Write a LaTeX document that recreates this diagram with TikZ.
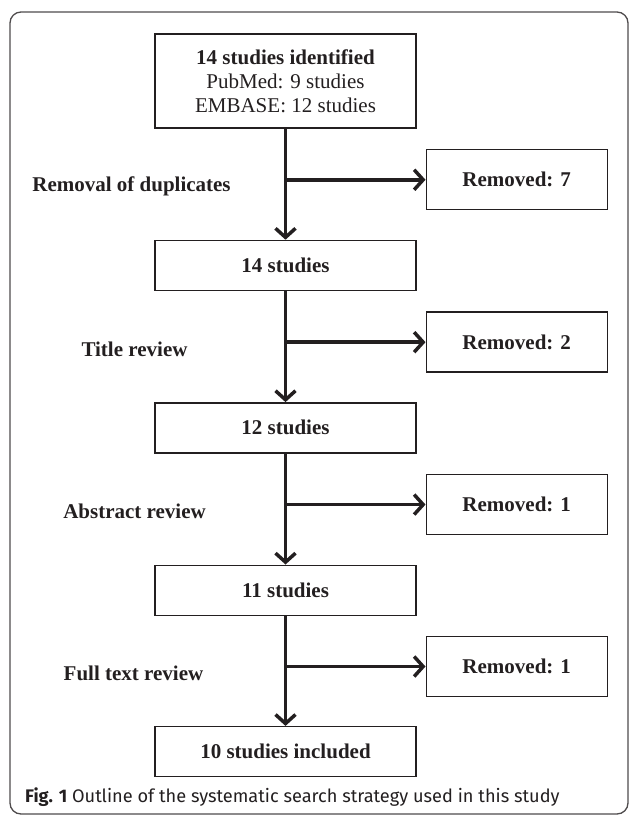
\documentclass[tikz,border=0pt]{standalone}
\usepackage{fontspec}
\setmainfont{Liberation Serif}
\newfontfamily\capfont{Fira Sans}
\usepackage{xcolor}
\definecolor{inkgray}{RGB}{35,31,32}
\usepackage{tikz}
\usetikzlibrary{arrows.meta,positioning,calc}
\tikzset{
  mainbox/.style={rectangle,draw=inkgray,line width=1.4pt,text=inkgray,align=center,
    minimum width=261pt,minimum height=50pt,inner sep=2pt,font=\fontsize{21}{24}\selectfont\bfseries},
  sidebox/.style={rectangle,draw=inkgray,line width=1.4pt,text=inkgray,align=center,
    minimum width=181pt,minimum height=60pt,inner sep=2pt,font=\fontsize{21}{24}\selectfont\bfseries},
  steplbl/.style={text=inkgray,font=\fontsize{21}{24}\selectfont\bfseries,inner sep=0pt},
  flow/.style={-{Straight Barb[length=9pt,width=20pt,line width=3.5pt]},line width=3.5pt,draw=inkgray},
  outframe/.style={draw=inkgray!80,line width=1.3pt,rounded corners=11pt},
}

\begin{document}
\begin{tikzpicture}[x=1pt,y=1pt]
  \useasboundingbox (0,0) rectangle (629,-815);
  \draw[outframe] (10,-12) rectangle (628,-814);
  \node (idf) [mainbox,minimum height=94pt] at (285.5,-81)
    {14 studies identified\\ \mdseries PubMed: 9 studies\\ \mdseries EMBASE: 12 studies};
  \node (s14)[mainbox,below=111pt of idf] {14 studies};
  \node (s12)[mainbox,below=111pt of s14] {12 studies};
  \node (s11)[mainbox,below=111pt of s12] {11 studies};
  \node (s10)[mainbox,below=110pt of s11] {10 studies included};
  % branch points on the main line
  \coordinate (b1) at ($(idf.south)!0.46!(s14.north)$);
  \coordinate (b2) at ($(s14.south)!0.46!(s12.north)$);
  \coordinate (b3) at ($(s12.south)!0.46!(s11.north)$);
  \coordinate (b4) at ($(s11.south)!0.46!(s10.north)$);
  \node (rm1)[sidebox,right=140pt of b1] {Removed: 7};
  \node (rm2)[sidebox,right=140pt of b2] {Removed: 2};
  \node (rm3)[sidebox,right=140pt of b3] {Removed: 1};
  \node (rm4)[sidebox,right=140pt of b4] {Removed: 1};
  \node (l1)[steplbl] at ($(b1)+(-154,-7)$) {Removal of duplicates};
  \node (l2)[steplbl] at ($(b2)+(-151,-7)$) {Title review};
  \node (l3)[steplbl] at ($(b3)+(-151,-7)$) {Abstract review};
  \node (l4)[steplbl] at ($(b4)+(-152,-7)$) {Full text review};
  \draw[flow](idf)--(s14); \draw[flow](s14)--(s12);
  \draw[flow](s12)--(s11); \draw[flow](s11)--(s10);
  \draw[flow](b1)--(rm1); \draw[flow](b2)--(rm2);
  \draw[flow](b3)--(rm3); \draw[flow](b4)--(rm4);
  \node (cap)[anchor=west,text=inkgray,inner sep=0pt,font=\capfont\fontsize{18.2}{21}\selectfont]
    at (25,-797) {\textbf{Fig. 1} Outline of the systematic search strategy used in this study};
\end{tikzpicture}
\end{document}
